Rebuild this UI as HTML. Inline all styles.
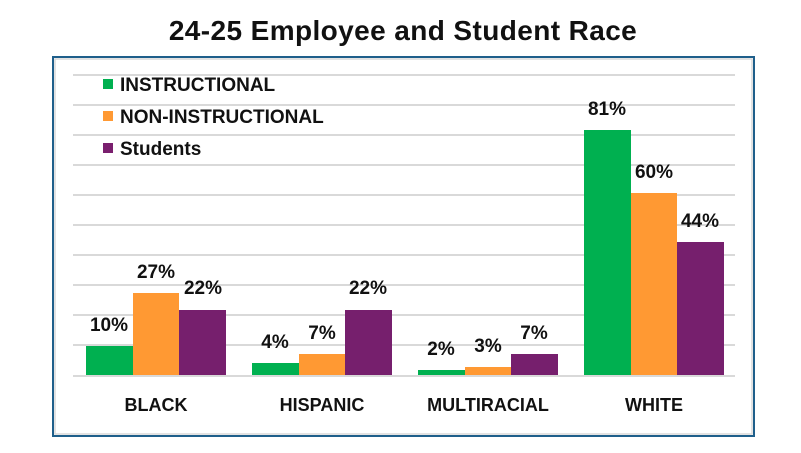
<!DOCTYPE html>
<html><head><style>
body{margin:0;background:#fff;}
svg text{font-family:"Liberation Sans",Arial,sans-serif;font-weight:bold;fill:#111;}
</style></head><body>
<svg width="801" height="448" viewBox="0 0 801 448" xmlns="http://www.w3.org/2000/svg">
<text x="403" y="40" font-size="28" text-anchor="middle" letter-spacing="0.4">24-25 Employee and Student Race</text>
<rect x="53" y="57" width="701" height="379" fill="#fff" stroke="#1f5f8b" stroke-width="2"/>
<rect x="55" y="59" width="697" height="375" fill="none" stroke="#d9d9d9" stroke-width="1.5"/>
<g stroke="#d9d9d9" stroke-width="2">
<line x1="73" x2="735" y1="75" y2="75"/><line x1="73" x2="735" y1="105" y2="105"/>
<line x1="73" x2="735" y1="135" y2="135"/><line x1="73" x2="735" y1="165" y2="165"/>
<line x1="73" x2="735" y1="195" y2="195"/><line x1="73" x2="735" y1="225" y2="225"/>
<line x1="73" x2="735" y1="255" y2="255"/><line x1="73" x2="735" y1="285" y2="285"/>
<line x1="73" x2="735" y1="315" y2="315"/><line x1="73" x2="735" y1="345" y2="345"/>
<line x1="73" x2="735" y1="376" y2="376"/>
</g>
<rect x="103" y="79" width="10" height="10" fill="#00b050"/>
<text x="120" y="91" font-size="19">INSTRUCTIONAL</text>
<rect x="103" y="111" width="10" height="10" fill="#ff9933"/>
<text x="120" y="123" font-size="19">NON-INSTRUCTIONAL</text>
<rect x="103" y="143" width="10" height="10" fill="#7a1f6e"/>
<text x="120" y="155" font-size="19">Students</text>
<g>
<rect x="86" y="346" width="47" height="29" fill="#00b050"/>
<rect x="133" y="293" width="46" height="82" fill="#ff9933"/>
<rect x="179" y="310" width="47" height="65" fill="#761f6d"/>
<rect x="252" y="363" width="47" height="12" fill="#00b050"/>
<rect x="299" y="354" width="46" height="21" fill="#ff9933"/>
<rect x="345" y="310" width="47" height="65" fill="#761f6d"/>
<rect x="418" y="370" width="47" height="5" fill="#00b050"/>
<rect x="465" y="367" width="46" height="8" fill="#ff9933"/>
<rect x="511" y="354" width="47" height="21" fill="#761f6d"/>
<rect x="584" y="130" width="47" height="245" fill="#00b050"/>
<rect x="631" y="193" width="46" height="182" fill="#ff9933"/>
<rect x="677" y="242" width="47" height="133" fill="#761f6d"/>
</g>
<g font-size="19">
<text x="109" y="331" text-anchor="middle">10%</text>
<text x="156" y="278" text-anchor="middle">27%</text>
<text x="203" y="294" text-anchor="middle">22%</text>
<text x="275" y="348" text-anchor="middle">4%</text>
<text x="322" y="339" text-anchor="middle">7%</text>
<text x="368" y="294" text-anchor="middle">22%</text>
<text x="441" y="355" text-anchor="middle">2%</text>
<text x="488" y="352" text-anchor="middle">3%</text>
<text x="534" y="339" text-anchor="middle">7%</text>
<text x="607" y="115" text-anchor="middle">81%</text>
<text x="654" y="178" text-anchor="middle">60%</text>
<text x="700" y="227" text-anchor="middle">44%</text>
</g>
<g font-size="18">
<text x="156" y="411" text-anchor="middle">BLACK</text>
<text x="322" y="411" text-anchor="middle">HISPANIC</text>
<text x="488" y="411" text-anchor="middle">MULTIRACIAL</text>
<text x="654" y="411" text-anchor="middle">WHITE</text>
</g>
</svg>
</body></html>
